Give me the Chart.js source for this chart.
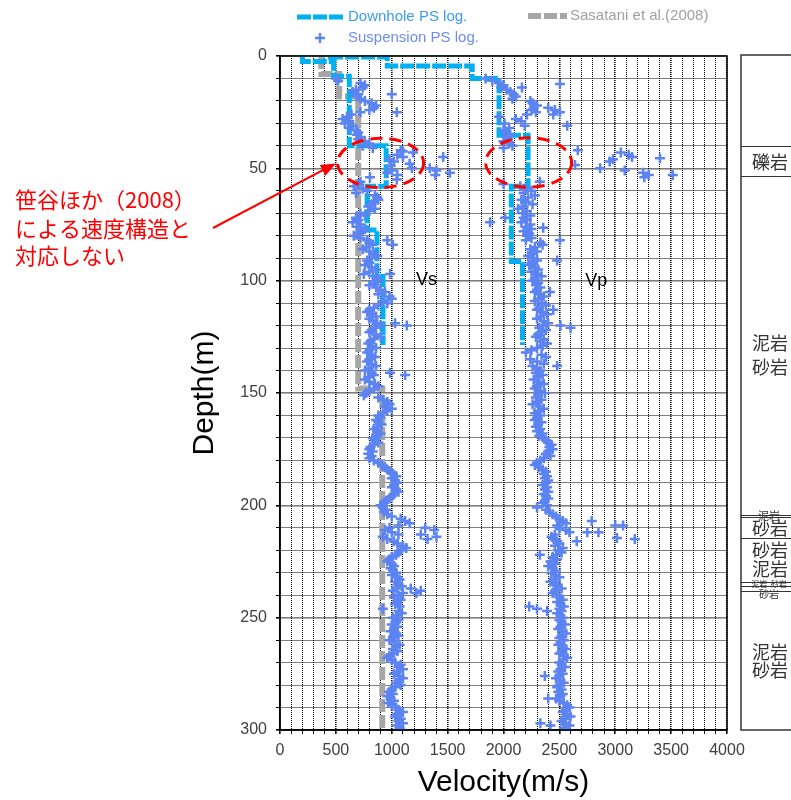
<!DOCTYPE html>
<html>
<head>
<meta charset="utf-8">
<script src="https://cdn.jsdelivr.net/npm/chart.js@4.4.1/dist/chart.umd.min.js"></script>
<style>
  html, body { margin: 0; padding: 0; background: #fff; }
  canvas { display: block; }
</style>
</head>
<body>
<canvas id="logChart" width="791" height="800"></canvas>
<script>
// ダウンホールPS検層：層上端深度(m)と速度(m/s)、最後は下端
const downholeVsTop = [0, 2.5, 9, 40, 58, 77.4, 98.2, 128.6];
const downholeVs    = [200, 480, 620, 950, 780, 868, 922, 922];
const downholeVpTop = [0, 0.5, 4.5, 10, 35.3, 58, 91.5, 128.6];
const downholeVp    = [450, 960, 1720, 1960, 2220, 2070, 2170, 2170];

// Sasatani et al.(2008) のVs構造
const sasataniTop = [0, 8, 18, 148, 300];
const sasataniVs  = [370, 530, 700, 915, 915];

// サスペンションPS検層（1m毎）
const suspDepth = [
  10, 11, 12, 13, 14, 15, 16, 17, 18, 19,
  20, 21, 22, 23, 24, 25, 26, 27, 28, 29,
  30, 31, 32, 33, 34, 35, 36, 37, 38, 39,
  40, 41, 42, 43, 44, 45, 46, 47, 48, 49,
  50, 51, 52, 53, 54, 55, 56, 57, 58, 59,
  60, 61, 62, 63, 64, 65, 66, 67, 68, 69,
  70, 71, 72, 73, 74, 75, 76, 77, 78, 79,
  80, 81, 82, 83, 84, 85, 86, 87, 88, 89,
  90, 91, 92, 93, 94, 95, 96, 97, 98, 99,
  100, 101, 102, 103, 104, 105, 106, 107, 108, 109,
  110, 111, 112, 113, 114, 115, 116, 117, 118, 119,
  120, 121, 122, 123, 124, 125, 126, 127, 128, 129,
  130, 131, 132, 133, 134, 135, 136, 137, 138, 139,
  140, 141, 142, 143, 144, 145, 146, 147, 148, 149,
  150, 151, 152, 153, 154, 155, 156, 157, 158, 159,
  160, 161, 162, 163, 164, 165, 166, 167, 168, 169,
  170, 171, 172, 173, 174, 175, 176, 177, 178, 179,
  180, 181, 182, 183, 184, 185, 186, 187, 188, 189,
  190, 191, 192, 193, 194, 195, 196, 197, 198, 199,
  200, 201, 202, 203, 204, 205, 206, 207, 208, 209,
  210, 211, 212, 213, 214, 215, 216, 217, 218, 219,
  220, 221, 222, 223, 224, 225, 226, 227, 228, 229,
  230, 231, 232, 233, 234, 235, 236, 237, 238, 239,
  240, 241, 242, 243, 244, 245, 246, 247, 248, 249,
  250, 251, 252, 253, 254, 255, 256, 257, 258, 259,
  260, 261, 262, 263, 264, 265, 266, 267, 268, 269,
  270, 271, 272, 273, 274, 275, 276, 277, 278, 279,
  280, 281, 282, 283, 284, 285, 286, 287, 288, 289,
  290, 291, 292, 293, 294, 295, 296, 297, 298, 299, 300
];
const suspVs = [
  500, 520, 720, 760, 740, 680, 650, 700, 690, 720,
  760, 820, 860, 840, 800, 720, 640, 600, 560, 620,
  580, 650, 620, 680, 700, 690, 720, 700, 760, 800,
  740, 830, 1080, 1190, 1050, 1100, 980, 1020, 1160, 990,
  1180, 1000, 960, 1050, 805, 1045, 720, 700, 660, 740,
  780, 680, 850, 870, 880, 840, 820, 790, 850, 800,
  720, 760, 680, 700, 650, 720, 690, 760, 740, 700,
  660, 720, 780, 800, 830, 770, 740, 800, 840, 870,
  820, 780, 800, 760, 820, 860, 800, 750, 830, 870,
  880, 840, 800, 860, 900, 940, 880, 980, 1000, 920,
  960, 880, 840, 800, 780, 820, 860, 800, 830, 870,
  900, 850, 820, 800, 860, 900, 840, 810, 790, 820,
  860, 800, 780, 820, 850, 800, 780, 820, 860, 800,
  760, 820, 840, 790, 760, 800, 850, 880, 840, 800,
  770, 750, 880, 920, 960, 980, 940, 1000, 960, 920,
  880, 900, 860, 880, 910, 870, 840, 870, 900, 860,
  830, 850, 880, 840, 810, 800, 830, 790, 820, 800,
  840, 880, 910, 940, 960, 990, 1010, 1040, 1000, 1030,
  1050, 1020, 1000, 1040, 1060, 1020, 1000, 980, 950, 930,
  900, 920, 950, 930, 960, 1000, 1080, 1120, 1160, 1060,
  980, 940, 1000, 1060, 920, 960, 1020, 1050, 1100, 1130,
  1080, 1060, 1040, 1000, 980, 960, 1000, 1020, 990, 1010,
  1040, 1000, 1050, 1070, 1030, 1060, 1090, 1040, 1010, 1100,
  1060, 1020, 1080, 1050, 1030, 1070, 920, 1060, 1090, 1040,
  1010, 1060, 1040, 1000, 1050, 1020, 990, 1040, 1060, 1010,
  980, 1030, 1070, 1040, 1010, 1050, 1020, 980, 960, 1000,
  1030, 1080, 1060, 1100, 1050, 1020, 1070, 1100, 1060, 1040,
  1080, 1030, 1000, 980, 1010, 960, 990, 1020, 970, 1000,
  1040, 1060, 1100, 1050, 1030, 1080, 1060, 1100, 1040, 1070, 1090
];
const suspVp = [
  1840, 1900, 1960, 2000, 1980, 2030, 2060, 2090, 2110, 2080,
  2240, 2260, 2300, 2270, 2250, 2290, 2210, 1960, 2110, 2160,
  2010, 2190, 2050, 2000, 2020, 2060, 2030, 2040, 2000, 2050,
  2080, 2000, null, null, null, null, null, null, null, null,
  null, null, null, null, null, null, 2325, 2000, 2150, 2200,
  2250, 2180, 2280, 2220, 2160, 2200, 2260, 2180, 2130, 2210,
  2170, 2240, 2180, 2210, 2160, 2240, 2200, 2250, 2180, 2230,
  2210, 2250, 2200, 2330, 2350, 2280, 2240, 2300, 2260, 2220,
  2270, 2300, 2250, 2230, 2280, 2310, 2250, 2300, 2340, 2280,
  2260, 2310, 2290, 2330, 2300, 2280, 2330, 2360, 2310, 2280,
  2340, 2380, 2320, 2300, 2350, 2390, 2330, 2300, 2360, 2400,
  2350, 2320, 2380, 2340, 2310, 2290, 2360, 2330, 2390, 2350,
  2300, 2250, 2200, 2340, 2380, 2240, 2300, 2360, 2260, 2300,
  2330, 2290, 2350, 2310, 2270, 2320, 2360, 2300, 2280, 2330,
  2370, 2310, 2290, 2340, 2300, 2260, 2320, 2360, 2310, 2280,
  2330, 2300, 2280, 2340, 2310, 2290, 2330, 2300, 2350, 2320,
  2360, 2380, 2400, 2430, 2410, 2440, 2400, 2380, 2420, 2360,
  2330, 2300, 2280, 2320, 2350, 2380, 2360, 2390, 2370, 2400,
  2380, 2350, 2390, 2370, 2400, 2360, 2380, 2400, 2370, 2350,
  2390, 2300, 2380, 2410, 2440, 2470, 2500, 2530, 2560, 2480,
  2500, 2560, 2590, 2460, 2430, 2450, 2480, 2500, 2460, 2530,
  2490, 2520, 2470, 2440, 2480, 2420, 2460, 2400, 2440, 2470,
  2430, 2460, 2500, 2450, 2420, 2470, 2480, 2520, 2460, 2440,
  2480, 2500, 2530, 2480, 2510, 2540, 2500, 2520, 2480, 2510,
  2530, 2500, 2520, 2550, 2510, 2490, 2530, 2560, 2520, 2500,
  2540, 2510, 2490, 2530, 2560, 2520, 2500, 2540, 2570, 2530,
  2500, 2520, 2550, 2510, 2490, 2530, 2500, 2470, 2510, 2540,
  2500, 2480, 2520, 2490, 2530, 2510, 2470, 2500, 2540, 2570,
  2590, 2560, 2530, 2570, 2600, 2550, 2520, 2560, 2590, 2540, 2560
];
// 外れた読み取り値 [深度, 速度]
const suspVsExtra = [
  [17, 1000], [25, 1045], [42.5, 1100], [45, 1460], [50, 1340], [51, 1400],
  [52, 1520], [53, 1390], [82, 960], [84, 1010], [97, 985], [119, 1030],
  [120, 1135], [141, 985], [142, 1120], [210, 1300], [211, 1380], [213, 1260],
  [214, 1400], [215, 1320], [237, 1170], [238, 1260], [239, 1220]
];
const suspVpExtra = [
  [12.5, 2505], [14, 2165], [23, 2400], [24, 2460], [25, 2505], [26, 2445],
  [31, 2570], [42, 2665], [48.5, 2640], [50, 2865], [47, 2950], [46, 2980],
  [43, 3050], [44, 3120], [45, 3150], [51, 3085], [52, 3250], [53, 3300],
  [54, 3260], [45.5, 3400], [53, 3515], [72, 2015], [74, 1880], [76.5, 2355],
  [82, 2505], [91, 2480], [105, 2415], [113, 2445], [120, 2510], [121, 2600],
  [138, 2480], [207, 2790], [212, 2750], [212, 2850], [209, 3000], [209, 3070],
  [214.5, 3015], [215, 3175], [216, 2655], [222, 2325], [245, 2230], [246, 2300],
  [247, 2390], [276, 2370], [286, 2400], [297, 2330], [298, 2420]
];

// 地質柱状図の境界深度と名称
const geoBounds = [40, 53.5, 204.3, 205.3, 214.6, 234, 236, 238];
const geoLabels = [
  { text: "礫岩", depth: 47.4, size: 18 },
  { text: "泥岩", depth: 127.7, size: 18 },
  { text: "砂岩", depth: 138.4, size: 18 },
  { text: "泥岩", depth: 204.8, size: 11 },
  { text: "砂岩", depth: 210.0, size: 18 },
  { text: "砂岩", depth: 219.8, size: 18 },
  { text: "泥岩", depth: 228.4, size: 18 },
  { text: "泥岩  砂岩", depth: 235.0, size: 8 },
  { text: "砂岩", depth: 239.5, size: 10 },
  { text: "泥岩", depth: 265.5, size: 18 },
  { text: "砂岩", depth: 273.3, size: 18 }
];

const LATIN = '"Liberation Sans", Arial, sans-serif';
const CJK = '"Noto Sans CJK JP", "Noto Sans", sans-serif';
const CYAN = "#00B0F0";
const GREY = "#A6A6A6";
const BLUE = "#5C83F2";

const steps = (tops, vels) => tops.map((d, i) => ({ x: vels[i], y: d }));
const pts = (vals) => suspDepth.map((d, i) => ({ x: vals[i], y: d })).filter(p => p.x !== null);
const extra = (list) => list.map(([d, v]) => ({ x: v, y: d }));

const decor = {
  id: "decor",
  afterDraw(chart) {
    const { ctx, chartArea: a, scales: { x, y } } = chart;
    ctx.save();

    // 枠
    ctx.strokeStyle = "#000";
    ctx.lineWidth = 1.5;
    ctx.setLineDash([]);
    ctx.strokeRect(a.left, a.top, a.right - a.left, a.bottom - a.top);

    // 軸タイトル
    ctx.fillStyle = "#000";
    ctx.textAlign = "center";
    ctx.textBaseline = "middle";
    ctx.font = "30px " + LATIN;
    ctx.fillText("Velocity(m/s)", (a.left + a.right) / 2, 783);
    ctx.save();
    ctx.translate(205, (a.top + a.bottom) / 2);
    ctx.rotate(-Math.PI / 2);
    ctx.fillText("Depth(m)", 0, 0);
    ctx.restore();

    // 凡例
    ctx.textAlign = "left";
    ctx.font = "15px " + LATIN;
    ctx.lineWidth = 5;
    ctx.strokeStyle = CYAN;
    ctx.setLineDash([14, 2]);
    ctx.beginPath(); ctx.moveTo(297, 17); ctx.lineTo(344, 17); ctx.stroke();
    ctx.fillStyle = "#3A9CF0";
    ctx.fillText("Downhole PS log.", 348, 17);
    ctx.setLineDash([]);
    ctx.lineWidth = 2.5;
    ctx.strokeStyle = BLUE;
    ctx.beginPath();
    ctx.moveTo(315, 38); ctx.lineTo(325, 38);
    ctx.moveTo(320, 33); ctx.lineTo(320, 43);
    ctx.stroke();
    ctx.fillStyle = "#6F8DF0";
    ctx.fillText("Suspension PS log.", 348, 38);
    ctx.lineWidth = 6;
    ctx.strokeStyle = GREY;
    ctx.setLineDash([13, 3]);
    ctx.beginPath(); ctx.moveTo(528, 16); ctx.lineTo(567, 16); ctx.stroke();
    ctx.setLineDash([]);
    ctx.fillStyle = "#A0A0A0";
    ctx.fillText("Sasatani et al.(2008)", 570, 16);

    // 地質柱状図
    const colL = 741;
    const colT = y.getPixelForValue(0) - 1;
    const colB = y.getPixelForValue(300);
    ctx.strokeStyle = "#333";
    ctx.lineWidth = 1.5;
    ctx.strokeRect(colL, colT, 80, colB - colT);
    ctx.lineWidth = 1;
    geoBounds.forEach(d => {
      const py = Math.round(y.getPixelForValue(d)) + 0.5;
      ctx.beginPath(); ctx.moveTo(colL, py); ctx.lineTo(800, py); ctx.stroke();
    });
    ctx.fillStyle = "#333";
    geoLabels.forEach(l => {
      ctx.font = l.size + "px " + CJK;
      const w = ctx.measureText(l.text).width;
      const px = l.size >= 18 ? 752 : 769 - w / 2;
      ctx.fillText(l.text, px, y.getPixelForValue(l.depth));
    });

    // 注記：楕円
    ctx.strokeStyle = "#FF0000";
    ctx.lineWidth = 3;
    ctx.setLineDash([12, 7]);
    [[900, 47.6], [2225, 47.4]].forEach(([v, d]) => {
      const cx = x.getPixelForValue(v), cy = y.getPixelForValue(d);
      const rx = x.getPixelForValue(v + 385) - cx;
      const ry = y.getPixelForValue(d + 11) - cy;
      ctx.beginPath(); ctx.ellipse(cx, cy, rx, ry, 0, 0, Math.PI * 2); ctx.stroke();
    });
    ctx.setLineDash([]);

    // 注記：矢印
    const tipX = x.getPixelForValue(500), tipY = y.getPixelForValue(47.8);
    const sx = 213, sy = 228;
    const ang = Math.atan2(tipY - sy, tipX - sx);
    ctx.lineWidth = 2;
    ctx.beginPath();
    ctx.moveTo(sx, sy);
    ctx.lineTo(tipX - 12 * Math.cos(ang), tipY - 12 * Math.sin(ang));
    ctx.stroke();
    ctx.fillStyle = "#FF0000";
    ctx.beginPath();
    ctx.moveTo(tipX, tipY);
    ctx.lineTo(tipX - 15 * Math.cos(ang) + 6 * Math.sin(ang), tipY - 15 * Math.sin(ang) - 6 * Math.cos(ang));
    ctx.lineTo(tipX - 15 * Math.cos(ang) - 6 * Math.sin(ang), tipY - 15 * Math.sin(ang) + 6 * Math.cos(ang));
    ctx.closePath(); ctx.fill();

    ctx.font = "22px " + CJK;
    ctx.textAlign = "left";
    ctx.fillText("笹谷ほか（2008）", 15, 200);
    ctx.fillText("による速度構造と", 15, 229);
    ctx.fillText("対応しない", 15, 256);

    // Vs / Vp ラベル
    ctx.fillStyle = "#000";
    ctx.font = "18px " + LATIN;
    ctx.textAlign = "center";
    ctx.fillText("Vs", x.getPixelForValue(1310), y.getPixelForValue(99.5));
    ctx.fillText("Vp", x.getPixelForValue(2830), y.getPixelForValue(100));

    ctx.restore();
  }
};

const gridWidth = (step) => (c) => (c.tick && c.tick.value % step === 0 ? 1.6 : 1);

new Chart(document.getElementById("logChart"), {
  type: "scatter",
  data: {
    datasets: [
      {
        label: "Sasatani et al.(2008)",
        data: steps(sasataniTop, sasataniVs),
        showLine: true, stepped: "after",
        borderColor: GREY, borderWidth: 6, borderDash: [13, 3],
        pointRadius: 0, order: 4
      },
      {
        label: "Downhole PS log.",
        data: steps(downholeVsTop, downholeVs),
        showLine: true, stepped: "after",
        borderColor: CYAN, borderWidth: 5, borderDash: [14, 2],
        pointRadius: 0, order: 3
      },
      {
        label: "Downhole PS log. Vp",
        data: steps(downholeVpTop, downholeVp),
        showLine: true, stepped: "after",
        borderColor: CYAN, borderWidth: 5, borderDash: [14, 2],
        pointRadius: 0, order: 3
      },
      {
        label: "Suspension PS log.",
        data: pts(suspVs).concat(extra(suspVsExtra)),
        pointStyle: "cross", pointRadius: 5, pointBorderWidth: 2.5,
        borderColor: BLUE, backgroundColor: BLUE, order: 1
      },
      {
        label: "Suspension PS log. Vp",
        data: pts(suspVp).concat(extra(suspVpExtra)),
        pointStyle: "cross", pointRadius: 5, pointBorderWidth: 2.5,
        borderColor: BLUE, backgroundColor: BLUE, order: 1
      }
    ]
  },
  options: {
    responsive: false,
    animation: false,
    events: [],
    layout: { padding: { left: 0, right: 64, top: 56, bottom: 0 } },
    plugins: { legend: { display: false }, tooltip: { enabled: false } },
    scales: {
      x: {
        type: "linear", min: 0, max: 4000,
        afterFit: (s) => { s.height = 70; },
        ticks: {
          stepSize: 100, autoSkip: false, maxRotation: 0, padding: 7,
          color: "#404040", font: { family: LATIN, size: 16 },
          callback: (v) => (v % 500 === 0 ? String(v) : "")
        },
        grid: { color: "#000", lineWidth: gridWidth(500), tickLength: 4, tickColor: "#000" },
        border: { color: "#000", width: 1.5, dash: [1, 1] }
      },
      y: {
        type: "linear", min: 0, max: 300, reverse: true,
        afterFit: (s) => { s.width = 280; },
        ticks: {
          stepSize: 10, autoSkip: false, padding: 9,
          color: "#404040", font: { family: LATIN, size: 16 },
          callback: (v) => (v % 50 === 0 ? String(v) : "")
        },
        grid: { color: "#000", lineWidth: gridWidth(50), tickLength: 4, tickColor: "#000" },
        border: { color: "#000", width: 1.5, dash: [1, 1] }
      }
    }
  },
  plugins: [decor]
});
</script>
</body>
</html>
